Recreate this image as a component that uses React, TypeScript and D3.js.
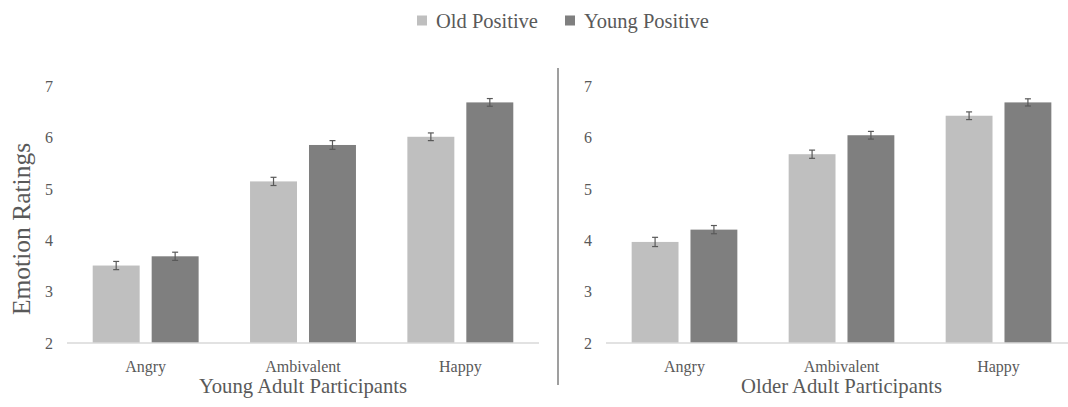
import React from "react";
import * as d3 from "d3";

const categories = ["Angry", "Ambivalent", "Happy"];
const seriesNames = ["Old Positive", "Young Positive"];
const panelTitles = ["Young Adult Participants", "Older Adult Participants"];
const youngOldPositive = [3.51, 5.15, 6.02];
const youngYoungPositive = [3.69, 5.86, 6.69];
const youngOldErr = [0.08, 0.08, 0.075];
const youngYoungErr = [0.08, 0.085, 0.075];
const olderOldPositive = [3.97, 5.68, 6.43];
const olderYoungPositive = [4.21, 6.05, 6.69];
const olderOldErr = [0.09, 0.08, 0.075];
const olderYoungErr = [0.08, 0.075, 0.07];
const yTicks = [2, 3, 4, 5, 6, 7];

const W = 1068;
const H = 407;
const FONT = "'Liberation Serif', 'Times New Roman', Times, serif";
const TEXT = "#595959";
const colors = ["#bfbfbf", "#7f7f7f"];

const y = d3.scaleLinear().domain([2, 7]).range([343, 86.5]);

type Panel = {
  title: string;
  range: [number, number];
  values: number[][];
  errs: number[][];
};

const panels: Panel[] = [
  {
    title: panelTitles[0],
    range: [67, 539],
    values: [youngOldPositive, youngYoungPositive],
    errs: [youngOldErr, youngYoungErr],
  },
  {
    title: panelTitles[1],
    range: [606, 1077],
    values: [olderOldPositive, olderYoungPositive],
    errs: [olderOldErr, olderYoungErr],
  },
];

const ts = (size: number) => ({ fontFamily: FONT, fontSize: `${size}px` });

function PanelView({ p }: { p: Panel }) {
  const x0 = d3.scaleBand<string>().domain(categories).range(p.range).padding(0);
  const x1 = d3
    .scaleBand<string>()
    .domain(seriesNames)
    .range([0, x0.bandwidth()])
    .paddingInner(0.2034)
    .paddingOuter(0.436);
  const mid = (p.range[0] + p.range[1]) / 2;
  return (
    <g>
      {yTicks.map((t) => (
        <text
          key={t}
          x={p.range[0] - 14}
          y={y(t)}
          dy="0.35em"
          textAnchor="end"
          style={ts(16)}
          fill={TEXT}
        >
          {t}
        </text>
      ))}
      {categories.map((c, ci) => (
        <g key={c}>
          {seriesNames.map((s, si) => {
            const v = p.values[si][ci];
            const e = p.errs[si][ci];
            const bx = (x0(c) as number) + (x1(s) as number);
            const bw = x1.bandwidth();
            const cx = bx + bw / 2;
            return (
              <g key={s}>
                <rect x={bx} y={y(v)} width={bw} height={y(2) - y(v)} fill={colors[si]} />
                <g stroke="#595959" strokeWidth={1.2}>
                  <line x1={cx} x2={cx} y1={y(v + e)} y2={y(v - e)} />
                  <line x1={cx - 3} x2={cx + 3} y1={y(v + e)} y2={y(v + e)} />
                  <line x1={cx - 3} x2={cx + 3} y1={y(v - e)} y2={y(v - e)} />
                </g>
              </g>
            );
          })}
          <text
            x={(x0(c) as number) + x0.bandwidth() / 2}
            y={372}
            textAnchor="middle"
            style={ts(16)}
            fill={TEXT}
          >
            {c}
          </text>
        </g>
      ))}
      <line x1={p.range[0]} x2={p.range[1]} y1={y(2)} y2={y(2)} stroke="#d9d9d9" strokeWidth={1.3} />
      <text x={mid} y={393} textAnchor="middle" style={ts(20.7)} fill={TEXT}>
        {p.title}
      </text>
    </g>
  );
}

export default function App() {
  const legendX = [417, 565];
  return (
    <svg
      width={W}
      height={H}
      viewBox={`0 0 ${W} ${H}`}
      style={{ position: "absolute", left: 0, top: 0, display: "block", background: "#fff", fontFamily: FONT }}
    >
      <rect width={W} height={H} fill="#fff" />
      {seriesNames.map((s, i) => (
        <g key={s}>
          <rect x={legendX[i]} y={15.5} width={10} height={10} fill={colors[i]} />
          <text x={legendX[i] + 19} y={28} style={ts(20.5)} fill={TEXT}>
            {s}
          </text>
        </g>
      ))}
      <text
        transform={`translate(30, 229) rotate(-90)`}
        textAnchor="middle"
        style={ts(25.5)}
        fill={TEXT}
      >
        Emotion Ratings
      </text>
      {panels.map((p) => (
        <PanelView key={p.title} p={p} />
      ))}
      <line x1={558} x2={558} y1={68} y2={385} stroke="#7f7f7f" strokeWidth={1.5} />
    </svg>
  );
}
